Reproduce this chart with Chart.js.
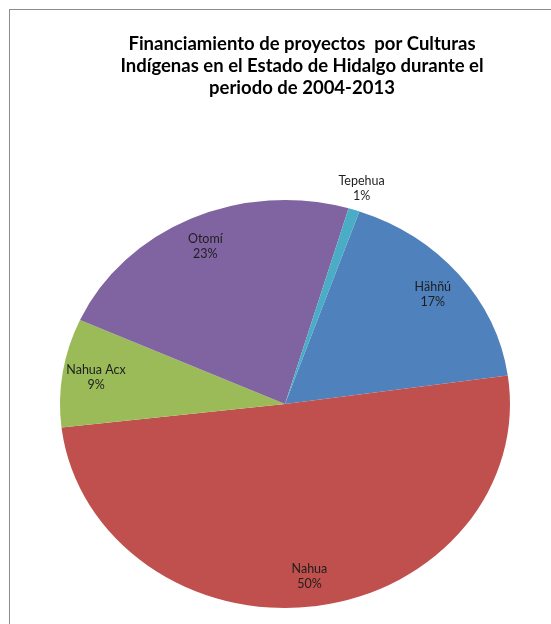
<!DOCTYPE html>
<html>
<head>
<meta charset="utf-8">
<script src="https://cdn.jsdelivr.net/npm/chart.js@4.4.1/dist/chart.umd.min.js"></script>
<style>
    html, body { margin: 0; padding: 0; background: #fff; overflow: hidden; }
    #marco { position: absolute; left: 9px; top: 9px; width: 600px; height: 700px;
             border-left: 1px solid #8c8c8c; border-top: 1px solid #8c8c8c; }
    #grafica { position: absolute; left: 0; top: 0; }
</style>
</head>
<body>
<div id="marco"></div>
<canvas id="grafica" width="551" height="700"></canvas>
<script>
// datos (porcentajes)
const culturas = ['Hähñú', 'Nahua', 'Nahua Acx', 'Otomí', 'Tepehua'];
const montos = [17.4, 50.4, 8.6, 22.8, 0.8];
const colores = ['#4F81BD', '#C0504D', '#9BBB59', '#8064A2', '#4BACC6'];
const tituloLineas = [
    'Financiamiento de proyectos  por Culturas',
    'Indígenas en el Estado de Hidalgo durante el',
    'periodo de 2004-2013'
];

const escalaY = 204 / 225;   // el pastel se ve achatado

const titulo = {
    id: 'titulo',
    afterDraw(chart) {
        const ctx = chart.ctx;
        ctx.save();
        ctx.font = 'bold 18.5px Lato';
        ctx.fillStyle = '#000';
        ctx.textAlign = 'center';
        ctx.textBaseline = 'middle';
        tituloLineas.forEach((t, i) => ctx.fillText(t, 302, 44 + i * 22));
        ctx.restore();
    }
};

const achatar = {
    id: 'achatar',
    beforeDatasetsDraw(chart) {
        const arc = chart.getDatasetMeta(0).data[0];
        chart.ctx.save();
        chart.ctx.translate(arc.x, arc.y);
        chart.ctx.scale(1, escalaY);
        chart.ctx.translate(-arc.x, -arc.y);
    },
    afterDatasetsDraw(chart) {
        chart.ctx.restore();
        // etiquetas
        const ctx = chart.ctx;
        const total = montos.reduce((a, b) => a + b, 0);
        ctx.save();
        ctx.font = '12.5px Lato';
        ctx.fillStyle = '#1e1e1e';
        ctx.textAlign = 'center';
        ctx.textBaseline = 'middle';
        chart.getDatasetMeta(0).data.forEach((arc, i) => {
            const pct = Math.round(montos[i] / total * 100);
            const a = (arc.startAngle + arc.endAngle) / 2;
            const f = pct < 3 ? 1.11 : 0.85;
            const x = arc.x + Math.cos(a) * arc.outerRadius * f;
            const y = arc.y + Math.sin(a) * arc.outerRadius * f * escalaY;
            ctx.fillText(culturas[i], x, y - 7.5);
            ctx.fillText(pct + '%', x, y + 7.5);
        });
        ctx.restore();
    }
};

const ctx = document.getElementById('grafica').getContext('2d');
const chart = new Chart(ctx, {
    type: 'pie',
    data: {
        labels: culturas,
        datasets: [{
            data: montos,
            backgroundColor: colores,
            borderWidth: 0
        }]
    },
    options: {
        responsive: false,
        animation: false,
        rotation: 19.3,
        layout: { padding: { top: 179, left: 60, right: 41, bottom: 71 } },
        plugins: {
            legend: { display: false },
            tooltip: { enabled: false },
            title: { display: false }
        }
    },
    plugins: [achatar, titulo]
});
</script>
</body>
</html>
